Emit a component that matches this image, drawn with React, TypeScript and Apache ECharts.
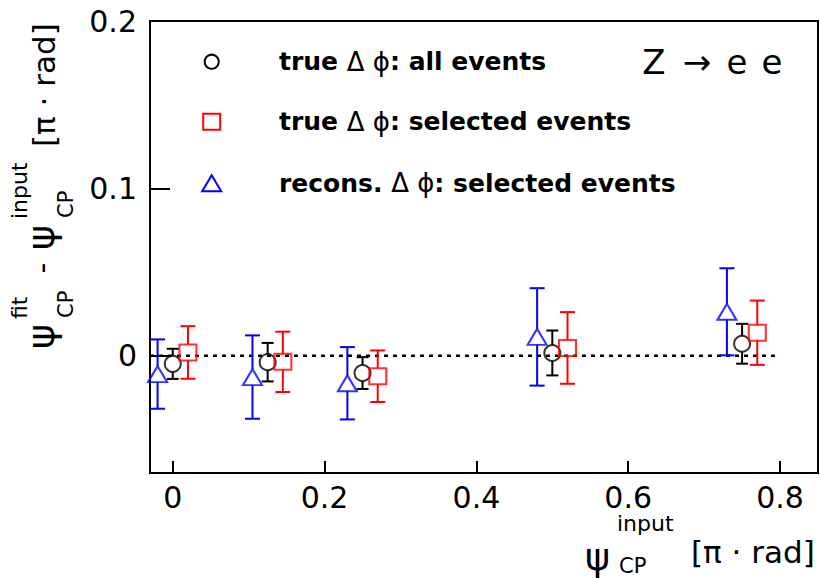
import React, { useEffect, useRef } from "react";
import * as echarts from "echarts";

// ---- data ----
const xTicks = [0, 0.2, 0.4, 0.6, 0.8];
const yTicks = [0, 0.1, 0.2];

// true Δφ: all events (black circles)
const xAll = [0.0, 0.125, 0.25, 0.5, 0.75];
const yAll = [-0.0048, -0.0038, -0.0103, 0.0017, 0.0072];
const eAll = [0.009, 0.0115, 0.0095, 0.0134, 0.0119];

// true Δφ: selected events (red squares)
const xSel = [0.02, 0.145, 0.27, 0.52, 0.77];
const ySel = [0.002, -0.0036, -0.0122, 0.0047, 0.0138];
const eSel = [0.0157, 0.018, 0.0154, 0.0214, 0.0192];

// recons. Δφ: selected events (blue triangles)
const xRec = [-0.02, 0.105, 0.23, 0.48, 0.73];
const yRec = [-0.0109, -0.0127, -0.0164, 0.0113, 0.0263];
const eRec = [0.0207, 0.0249, 0.0216, 0.0291, 0.026];

const zeroLine = [
  [-0.03, 0],
  [0.8, 0],
];

const FONT = "DejaVu Sans";

function errSeries(xs: number[], ys: number[], es: number[], color: string, capW: number, gap: number) {
  return {
    type: "custom",
    silent: true,
    z: 3,
    data: xs.map((x, i) => [x, ys[i], es[i]]),
    encode: { x: 0, y: 1 },
    renderItem: (_params: any, api: any) => {
      const x = api.value(0);
      const y = api.value(1);
      const e = api.value(2);
      const c = api.coord([x, y]);
      const t = api.coord([x, y + e]);
      const b = api.coord([x, y - e]);
      const st = { stroke: color, lineWidth: 2, fill: "none" };
      const ch: any[] = [];
      if (t[1] < c[1] - gap) ch.push({ type: "line", shape: { x1: c[0], y1: t[1], x2: c[0], y2: c[1] - gap }, style: st });
      if (b[1] > c[1] + gap) ch.push({ type: "line", shape: { x1: c[0], y1: c[1] + gap, x2: c[0], y2: b[1] }, style: st });
      ch.push({ type: "line", shape: { x1: c[0] - capW / 2, y1: t[1], x2: c[0] + capW / 2, y2: t[1] }, style: st });
      ch.push({ type: "line", shape: { x1: c[0] - capW / 2, y1: b[1], x2: c[0] + capW / 2, y2: b[1] }, style: st });
      return { type: "group", children: ch };
    },
  };
}

function markSeries(xs: number[], ys: number[], color: string, symbol: string, size: any) {
  return {
    type: "scatter",
    z: 4,
    symbol,
    symbolSize: size,
    data: xs.map((x, i) => [x, ys[i]]),
    itemStyle: { color: "rgba(0,0,0,0)", borderColor: color, borderWidth: 2 },
  };
}

export default function App() {
  const ref = useRef<HTMLDivElement>(null);
  useEffect(() => {
    document.body.style.margin = "0";
    const chart = echarts.init(ref.current!, null, { renderer: "svg" });

    const legendRows = [
      { y: 61.7, pre: "true ", post: ": all events" },
      { y: 121.7, pre: "true ", post: ": selected events" },
      { y: 183.3, pre: "recons. ", post: ": selected events" },
    ];
    const legendText = legendRows.map((r) => ({
      type: "text",
      x: 279,
      y: r.y,
      style: {
        text: `{b|${r.pre}}{g|Δ ϕ}{b|${r.post}}`,
        verticalAlign: "middle",
        fill: "#000",
        rich: {
          b: { fontFamily: FONT, fontWeight: "bold", fontSize: 25, fill: "#000" },
          g: { fontFamily: FONT, fontWeight: "normal", fontSize: 26, fill: "#000" },
        },
      },
    }));

    const lx = 211.7;
    const legendMarks = [
      { type: "circle", shape: { cx: lx, cy: 61.7, r: 7 }, style: { fill: "none", stroke: "#000", lineWidth: 2 } },
      { type: "rect", shape: { x: lx - 8.5, y: 121.7 - 8, width: 17, height: 16 }, style: { fill: "none", stroke: "#ff0000", lineWidth: 2 } },
      {
        type: "polygon",
        shape: { points: [[lx, 183.3 - 8], [lx + 9.5, 183.3 + 8], [lx - 9.5, 183.3 + 8]] },
        style: { fill: "none", stroke: "#0000ff", lineWidth: 2 },
      },
    ];

    const zText = [
      { t: "Z", x: 654 },
      { t: "→", x: 697 },
      { t: "e", x: 737 },
      { t: "e", x: 772 },
    ].map((d) => ({
      type: "text",
      x: d.x,
      y: 62,
      style: { text: d.t, fontFamily: FONT, fontSize: 34, fill: "#000", align: "center", verticalAlign: "middle" },
    }));

    const txt = (text: string, x: number, y: number, fs: number, align = "left") => ({
      type: "text",
      x,
      y,
      style: { text, fontFamily: FONT, fontSize: fs, fill: "#000", align, verticalAlign: "middle" },
    });

    const xTitle = [
      txt("ψ", 585, 557, 38),
      txt("input", 617, 523, 22),
      txt("CP", 619, 566, 21),
      txt("[π · rad]", 691, 552, 31),
    ];

    const yTitle = {
      type: "group",
      x: 41,
      y: 349,
      rotation: Math.PI / 2,
      children: [
        txt("ψ", 0, 0, 38),
        txt("fit", 30, -22, 22),
        txt("CP", 31, 25, 21),
        txt("-", 81, 0, 30, "center"),
        txt("ψ", 99, 0, 38),
        txt("input", 130, -22, 22),
        txt("CP", 131, 25, 21),
        txt("[π · rad]", 202, 3, 31),
      ],
    };

    chart.setOption({
      animation: false,
      backgroundColor: "#fff",
      grid: { left: 150, top: 21, width: 668, height: 452, show: true, borderColor: "#000", borderWidth: 2, backgroundColor: "transparent" },
      xAxis: {
        type: "value",
        min: -0.03,
        max: 0.85,
        axisLine: { show: true, onZero: false, lineStyle: { color: "#000", width: 2 } },
        axisTick: { show: true, inside: true, length: 12, lineStyle: { color: "#000", width: 2 }, customValues: xTicks },
        axisLabel: {
          customValues: xTicks,
          fontFamily: FONT,
          fontSize: 30,
          color: "#000",
          margin: 24,
          verticalAlign: "middle",
          formatter: (v: number) => String(Math.round(v * 10) / 10),
        },
        splitLine: { show: false },
      },
      yAxis: {
        type: "value",
        min: -0.07,
        max: 0.2,
        axisLine: { show: true, onZero: false, lineStyle: { color: "#000", width: 2 } },
        axisTick: { show: true, inside: true, length: 20, lineStyle: { color: "#000", width: 2 }, customValues: yTicks },
        axisLabel: {
          customValues: yTicks,
          fontFamily: FONT,
          fontSize: 30,
          color: "#000",
          margin: 13,
          verticalAlign: "middle",
          padding: [6, 0, 0, 0],
          formatter: (v: number) => String(Math.round(v * 10) / 10),
        },
        splitLine: { show: false },
      },
      series: [
        {
          type: "line",
          data: zeroLine,
          symbol: "none",
          z: 2,
          silent: true,
          lineStyle: { color: "#000", width: 2.5, type: [4, 5] },
        },
        errSeries(xRec, yRec, eRec, "#0000ff", 15, 8),
        errSeries(xAll, yAll, eAll, "#000000", 12, 8),
        errSeries(xSel, ySel, eSel, "#ff0000", 15, 8),
        markSeries(xRec, yRec, "#0000ff", "triangle", [19, 16]),
        markSeries(xAll, yAll, "#000000", "circle", 16),
        markSeries(xSel, ySel, "#ff0000", "rect", [17, 16]),
      ],
      graphic: [...legendMarks, ...legendText, ...zText, ...xTitle, yTitle],
    });
    return () => chart.dispose();
  }, []);
  return <div ref={ref} style={{ position: "fixed", left: 0, top: 0, width: 821, height: 578 }} />;
}
